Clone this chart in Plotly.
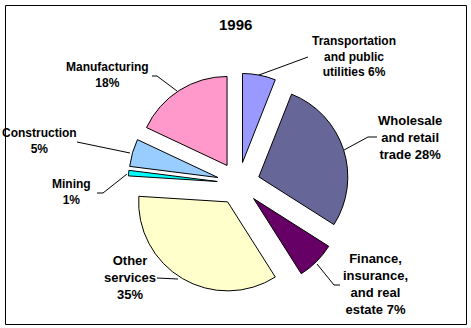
import plotly.graph_objects as go

W, H = 471, 328

categories = ["Transportation and public utilities", "Wholesale and retail trade",
              "Finance, insurance, and real estate", "Other services", "Mining",
              "Construction", "Manufacturing"]
values = [6, 28, 7, 35, 1, 5, 18]
colors = ["#9999FF", "#666699", "#660066", "#FFFFCC", "#00FFFF", "#99CCFF", "#FF99CC"]
label_texts = ["Transportation<br>and public<br>utilities 6%",
               "Wholesale<br>and retail<br>trade 28%",
               "Finance,<br>insurance,<br>and real<br>estate 7%",
               "Other<br>services<br>35%",
               "Mining<br>1%",
               "Construction<br>5%",
               "Manufacturing<br>18%"]
label_sizes = [12, 13, 13, 13, 12, 12, 12]
title_text = "1996"

def px(x):
    return x / W

def py(y):
    return 1 - y / H

cx, cy, r, pull = 238.5, 183.5, 89, 0.24
half = r * (1 + pull)

fig = go.Figure(go.Pie(
    labels=categories, values=values, sort=False, direction="clockwise",
    rotation=0, pull=[pull] * len(values),
    marker=dict(colors=colors, line=dict(color="black", width=1)),
    textinfo="none", hoverinfo="label+percent", showlegend=False,
    domain=dict(x=[px(cx - half), px(cx + half)], y=[py(cy + half), py(cy - half)]),
))

FAMILY = "Liberation Sans, Arial, sans-serif"

# label positions (pixel centres) and leader lines
label_pos = [(354, 56), (410, 138), (375, 283.5), (130, 277), (71, 191.5), (39, 141), (107, 74.5)]
leaders = [
    [(308, 57), (259, 75)],
    [(377, 137), (368, 137), (344, 150)],
    [(340, 285), (334, 285), (317, 264)],
    [(157, 278), (178, 279)],
    [(97, 193), (103, 193), (127, 174)],
    [(77, 142), (130, 153)],
    [(152, 76), (157, 76), (177, 91)],
]

annotations = []
for txt, (x, y), s in zip(label_texts, label_pos, label_sizes):
    annotations.append(dict(text="<b>" + txt + "</b>", x=px(x), y=py(y), xref="paper", yref="paper",
                            xanchor="center", yanchor="middle", showarrow=False,
                            font=dict(family=FAMILY, size=s, color="black"), align="center"))
annotations.append(dict(text="<b>" + title_text + "</b>", x=px(235), y=py(25), xref="paper", yref="paper",
                        xanchor="center", yanchor="middle", showarrow=False,
                        font=dict(family=FAMILY, size=15, color="black")))

shapes = [dict(type="rect", xref="paper", yref="paper", x0=px(5.5), x1=px(466.5), y0=py(324.5), y1=py(5.5),
               line=dict(color="black", width=1))]
for pts in leaders:
    for (x0, y0), (x1, y1) in zip(pts[:-1], pts[1:]):
        shapes.append(dict(type="line", xref="paper", yref="paper", x0=px(x0), y0=py(y0), x1=px(x1), y1=py(y1),
                           line=dict(color="black", width=1)))

fig.update_layout(width=W, height=H, margin=dict(l=0, r=0, t=0, b=0),
                  paper_bgcolor="white", plot_bgcolor="white",
                  annotations=annotations, shapes=shapes)

fig.write_html("out.html")
